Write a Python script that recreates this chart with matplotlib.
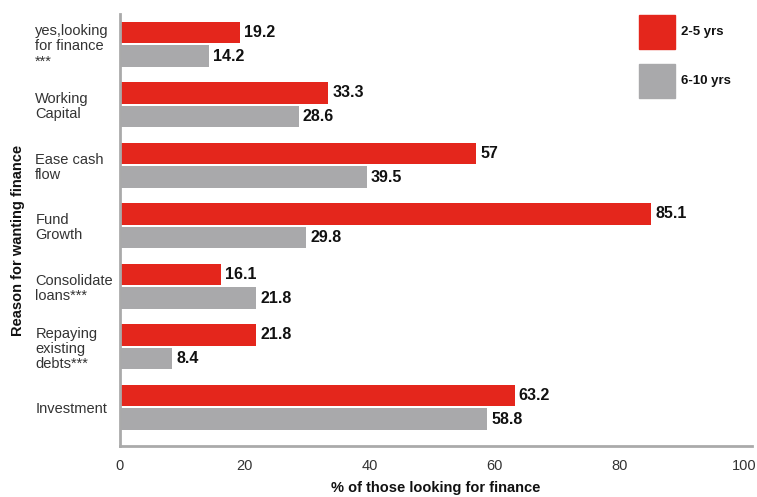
import matplotlib
matplotlib.use("Agg")
import matplotlib.pyplot as plt
from matplotlib.patches import Rectangle
import numpy as np

plt.rcParams['font.family'] = ['Liberation Sans', 'DejaVu Sans']

categories = ["yes,looking\nfor finance\n***", "Working\nCapital", "Ease cash\nflow",
              "Fund\nGrowth", "Consolidate\nloans***", "Repaying\nexisting\ndebts***",
              "Investment"]
series_names = ["2-5 yrs", "6-10 yrs"]
vals_2_5 = [19.2, 33.3, 57, 85.1, 16.1, 21.8, 63.2]
vals_6_10 = [14.2, 28.6, 39.5, 29.8, 21.8, 8.4, 58.8]
xticks = [0, 20, 40, 60, 80, 100]

RED = "#E4261C"
GRAY = "#A9A9AB"

fig = plt.figure(figsize=(7.57, 4.97), dpi=100)
W, H = 757, 497
ax = fig.add_axes([120 / W, 1 - 446 / H, (752 - 120) / W, (446 - 14) / H])

y = np.arange(len(categories))
h = 0.36
off = 0.195
ax.barh(y - off, vals_2_5, height=h, color=RED)
ax.barh(y + off, vals_6_10, height=h, color=GRAY)

for yi, v in zip(y, vals_2_5):
    ax.annotate(f"{v:g}", (v, yi - off), xytext=(3, 0), textcoords="offset points",
                va="center", ha="left", fontsize=11.5, fontweight="bold", color="#111111")
for yi, v in zip(y, vals_6_10):
    ax.annotate(f"{v:g}", (v, yi + off), xytext=(3, 0), textcoords="offset points",
                va="center", ha="left", fontsize=11.5, fontweight="bold", color="#111111")

ax.set_xlim(0, 101.2)
ax.set_ylim(6.64, -0.5)
ax.set_xticks(xticks)
ax.set_xticklabels([str(t) for t in xticks], fontsize=10.5, color="#333333")
ax.tick_params(axis="x", length=0, pad=9)

ax.set_yticks(y)
ax.set_yticklabels(categories, fontsize=10.5, color="#333333", linespacing=1.1)
ax.tick_params(axis="y", length=0, pad=61)
for lbl in ax.get_yticklabels():
    lbl.set_horizontalalignment("left")

for s in ["top", "right"]:
    ax.spines[s].set_visible(False)
for s in ["left", "bottom"]:
    ax.spines[s].set_color("#AAAAAA")
    ax.spines[s].set_linewidth(2)

ax.set_xlabel("% of those looking for finance", fontsize=10.5, fontweight="bold",
              color="#111111", labelpad=6)
fig.text(18 / W, 1 - 240 / H, "Reason for wanting finance", rotation=90,
         ha="center", va="center", fontsize=10.5, fontweight="bold", color="#111111")

# Legend drawn as square swatches with bold labels
for (name, col, top) in [(series_names[0], RED, 15), (series_names[1], GRAY, 64)]:
    fig.patches.append(Rectangle((639 / W, 1 - (top + 34) / H), 36 / W, 34 / H,
                                 transform=fig.transFigure, color=col))
    fig.text(681 / W, 1 - (top + 17) / H, name, ha="left", va="center",
             fontsize=9.5, fontweight="bold", color="#111111")

fig.savefig("out.png", dpi=100)
